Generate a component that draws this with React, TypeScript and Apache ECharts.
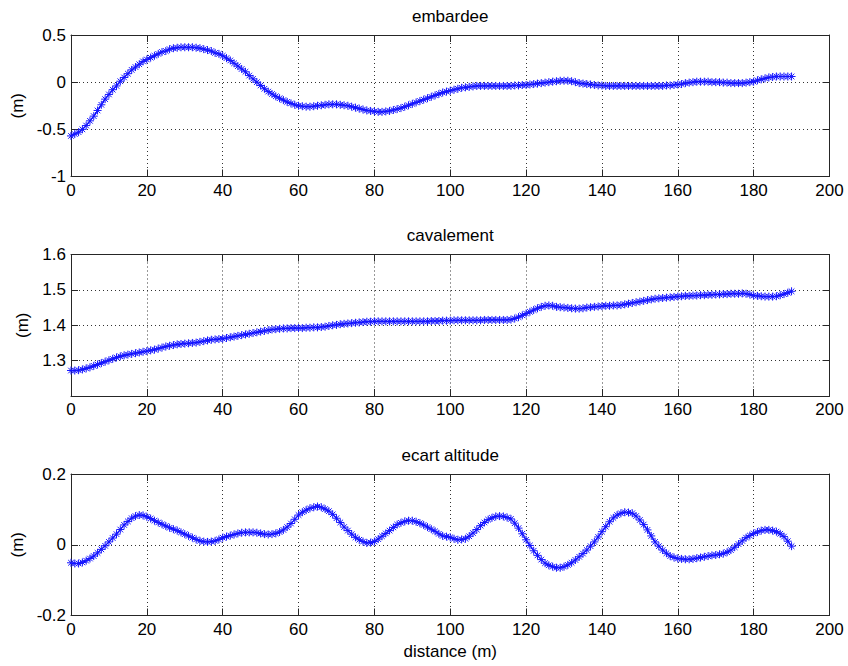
import React, { useEffect, useRef } from "react";
import * as echarts from "echarts";

const titles = ["embardee", "cavalement", "ecart altitude"];
const yUnit = "(m)";
const xName = "distance (m)";
const xTicks = { min: 0, max: 200, interval: 20 };

const embardee = [
  -0.57, -0.55, -0.53, -0.5, -0.46, -0.41, -0.36, -0.3, -0.24, -0.18,
  -0.13, -0.08, -0.04, 0.01, 0.05, 0.09, 0.13, 0.16, 0.19, 0.22,
  0.24, 0.26, 0.28, 0.3, 0.32, 0.33, 0.35, 0.36, 0.365, 0.37,
  0.37, 0.37, 0.37, 0.365, 0.36, 0.35, 0.34, 0.33, 0.31, 0.3,
  0.28, 0.255, 0.23, 0.2, 0.17, 0.14, 0.11, 0.07, 0.035, 0.0,
  -0.035, -0.07, -0.1, -0.125, -0.15, -0.17, -0.19, -0.21, -0.225, -0.24,
  -0.25, -0.255, -0.26, -0.26, -0.255, -0.25, -0.245, -0.24, -0.235, -0.235,
  -0.235, -0.24, -0.245, -0.25, -0.26, -0.27, -0.28, -0.29, -0.3, -0.305,
  -0.31, -0.315, -0.315, -0.31, -0.305, -0.295, -0.285, -0.275, -0.26, -0.245,
  -0.23, -0.215, -0.2, -0.185, -0.17, -0.155, -0.14, -0.125, -0.11, -0.1,
  -0.09, -0.08, -0.07, -0.06, -0.055, -0.05, -0.045, -0.04, -0.04, -0.04,
  -0.04, -0.04, -0.04, -0.04, -0.04, -0.04, -0.04, -0.035, -0.035, -0.03,
  -0.03, -0.025, -0.02, -0.015, -0.01, -0.005, 0.0, 0.005, 0.01, 0.015,
  0.015, 0.015, 0.01, 0.0, -0.01, -0.015, -0.02, -0.025, -0.03, -0.035,
  -0.035, -0.04, -0.04, -0.04, -0.04, -0.04, -0.04, -0.04, -0.04, -0.04,
  -0.04, -0.04, -0.04, -0.04, -0.04, -0.04, -0.04, -0.035, -0.035, -0.03,
  -0.025, -0.02, -0.01, -0.005, 0.0, 0.005, 0.005, 0.005, 0.005, 0.0,
  0.0, 0.0, -0.005, -0.005, -0.01, -0.01, -0.01, -0.01, -0.005, 0.0,
  0.005, 0.02, 0.03, 0.04, 0.05, 0.055, 0.06, 0.06, 0.06, 0.06,
  0.06,
];

const cavalement = [
  1.272, 1.272, 1.273, 1.275, 1.278, 1.281, 1.285, 1.289, 1.293, 1.297,
  1.301, 1.305, 1.309, 1.312, 1.315, 1.317, 1.319, 1.321, 1.323, 1.325,
  1.327, 1.329, 1.331, 1.334, 1.337, 1.34, 1.342, 1.344, 1.346, 1.347,
  1.348, 1.349, 1.35, 1.351, 1.353, 1.355, 1.357, 1.359, 1.36, 1.361,
  1.362, 1.364, 1.366, 1.368, 1.37, 1.372, 1.374, 1.376, 1.378, 1.38,
  1.382, 1.384, 1.386, 1.388, 1.389, 1.39, 1.391, 1.391, 1.392, 1.392,
  1.392, 1.392, 1.393, 1.393, 1.394, 1.394, 1.395, 1.396, 1.398, 1.4,
  1.401, 1.403, 1.404, 1.405, 1.406, 1.407, 1.408, 1.409, 1.41, 1.41,
  1.411, 1.411, 1.411, 1.411, 1.411, 1.411, 1.411, 1.411, 1.411, 1.411,
  1.411, 1.411, 1.411, 1.411, 1.411, 1.412, 1.412, 1.412, 1.413, 1.413,
  1.413, 1.414, 1.414, 1.414, 1.414, 1.414, 1.414, 1.414, 1.414, 1.415,
  1.415, 1.415, 1.415, 1.415, 1.415, 1.415, 1.416, 1.419, 1.423, 1.428,
  1.433, 1.438, 1.443, 1.448, 1.452, 1.455, 1.456, 1.455, 1.452, 1.451,
  1.45, 1.449, 1.448, 1.447, 1.447, 1.448, 1.45, 1.451, 1.452, 1.453,
  1.454, 1.455, 1.455, 1.456, 1.456, 1.457, 1.459, 1.461, 1.463, 1.465,
  1.467, 1.469, 1.471, 1.473, 1.475, 1.476, 1.477, 1.478, 1.479, 1.48,
  1.481, 1.482, 1.483, 1.483, 1.484, 1.484, 1.485, 1.485, 1.486, 1.486,
  1.487, 1.487, 1.488, 1.488, 1.489, 1.489, 1.489, 1.49, 1.489, 1.487,
  1.484, 1.483, 1.482, 1.481, 1.481, 1.481, 1.482, 1.485, 1.488, 1.492,
  1.496,
];

const ecartAltitude = [
  -0.051, -0.053, -0.053, -0.05, -0.045, -0.039, -0.032, -0.023, -0.013, -0.003,
  0.008, 0.019, 0.03, 0.043, 0.056, 0.066, 0.075, 0.081, 0.084, 0.083,
  0.079, 0.074, 0.068, 0.063, 0.058, 0.053, 0.048, 0.044, 0.04, 0.035,
  0.03, 0.025, 0.02, 0.015, 0.011, 0.009, 0.008, 0.009, 0.011, 0.015,
  0.02, 0.023, 0.026, 0.029, 0.032, 0.034, 0.035, 0.035, 0.035, 0.034,
  0.032, 0.03, 0.029, 0.03, 0.032, 0.036, 0.042, 0.05, 0.06, 0.072,
  0.084, 0.092, 0.098, 0.103, 0.106, 0.108, 0.106, 0.101, 0.095, 0.086,
  0.075, 0.063, 0.05, 0.04, 0.03, 0.021, 0.014, 0.009, 0.005, 0.006,
  0.009, 0.016, 0.024, 0.032, 0.04, 0.049, 0.057, 0.062, 0.066, 0.068,
  0.068, 0.065, 0.061, 0.056, 0.05, 0.044, 0.038, 0.031, 0.025, 0.023,
  0.021, 0.017, 0.014, 0.015, 0.017, 0.024, 0.033, 0.043, 0.054, 0.063,
  0.071, 0.076, 0.08, 0.081, 0.08, 0.077, 0.073, 0.061, 0.047, 0.031,
  0.014, -0.002, -0.017, -0.03, -0.042, -0.052, -0.058, -0.062, -0.065, -0.065,
  -0.062, -0.057, -0.051, -0.043, -0.034, -0.025, -0.015, -0.004, 0.008, 0.022,
  0.037, 0.051, 0.065, 0.076, 0.084, 0.089, 0.092, 0.091, 0.089, 0.081,
  0.07, 0.057, 0.042, 0.025, 0.008, -0.004, -0.015, -0.024, -0.032, -0.036,
  -0.039, -0.04, -0.041, -0.041, -0.04, -0.038, -0.036, -0.034, -0.032, -0.03,
  -0.029, -0.027, -0.025, -0.021, -0.015, -0.007, 0.002, 0.011, 0.02, 0.026,
  0.032, 0.036, 0.04, 0.042, 0.042, 0.04, 0.037, 0.031, 0.023, 0.01,
  -0.004,
];

const yRanges = [
  { min: -1, max: 0.5, interval: 0.5 },
  { min: 1.2, max: 1.6, interval: 0.1 },
  { min: -0.2, max: 0.2, interval: 0.2 },
];

const seriesValues = [embardee, cavalement, ecartAltitude];
const nameGaps = [43, 38, 43];

const FONT = "Liberation Sans, Arial, Helvetica, sans-serif";
const FS = 17;
const AXIS_COLOR = "#262626";
const ASTERISK =
  "path://M5,0L5,10M0,5L10,5M1.5,1.5L8.5,8.5M1.5,8.5L8.5,1.5";

export default function App() {
  const ref = useRef<HTMLDivElement>(null);

  useEffect(() => {
    if (!ref.current) return;
    const chart = echarts.init(ref.current, undefined, { renderer: "svg" });

    const gridTops = [35, 254.5, 474];
    const gridHeight = 141.5;
    const grids = gridTops.map((t) => ({
      left: 71,
      right: 18.5,
      top: t,
      height: gridHeight,
      containLabel: false,
    }));

    const xAxes: any[] = [];
    const yAxes: any[] = [];
    const series: any[] = [];
    const graphics: any[] = [];

    gridTops.forEach((t, i) => {
      xAxes.push({
        type: "value",
        gridIndex: i,
        position: "bottom",
        ...xTicks,
        axisLine: { show: true, onZero: false, lineStyle: { color: AXIS_COLOR, width: 1 } },
        axisTick: { show: true, inside: true, length: 7, lineStyle: { color: AXIS_COLOR } },
        axisLabel: { color: "#000", fontSize: FS, fontFamily: FONT, margin: 5 },
        splitLine: { show: true, lineStyle: { color: "#333", type: [1, 3], width: 1 } },
        name: i === 2 ? xName : "",
        nameLocation: "middle",
        nameGap: 27,
        nameTextStyle: { color: "#000", fontSize: FS, fontFamily: FONT },
      });
      xAxes.push({
        type: "value",
        gridIndex: i,
        position: "top",
        ...xTicks,
        axisLine: { show: true, onZero: false, lineStyle: { color: AXIS_COLOR, width: 1 } },
        axisTick: { show: true, inside: true, length: 7, lineStyle: { color: AXIS_COLOR } },
        axisLabel: { show: false },
        splitLine: { show: false },
      });
      yAxes.push({
        type: "value",
        gridIndex: i,
        position: "left",
        ...yRanges[i],
        axisLine: { show: true, onZero: false, lineStyle: { color: AXIS_COLOR, width: 1 } },
        axisTick: { show: true, inside: true, length: 7, lineStyle: { color: AXIS_COLOR } },
        axisLabel: {
          color: "#000",
          fontSize: FS,
          fontFamily: FONT,
          margin: 5,
          showMinLabel: i !== 1,
        },
        splitLine: { show: true, lineStyle: { color: "#333", type: [1, 3], width: 1 } },
        name: yUnit,
        nameLocation: "middle",
        nameRotate: 90,
        nameGap: nameGaps[i],
        nameTextStyle: { color: "#000", fontSize: FS, fontFamily: FONT },
      });
      yAxes.push({
        type: "value",
        gridIndex: i,
        position: "right",
        ...yRanges[i],
        axisLine: { show: true, onZero: false, lineStyle: { color: AXIS_COLOR, width: 1 } },
        axisTick: { show: true, inside: true, length: 7, lineStyle: { color: AXIS_COLOR } },
        axisLabel: { show: false },
        splitLine: { show: false },
      });

      series.push({
        type: "line",
        name: titles[i],
        xAxisIndex: 2 * i,
        yAxisIndex: 2 * i,
        data: seriesValues[i].map((v, k) => [k, v]),
        lineStyle: { color: "#0000ff", width: 1.2 },
        symbol: ASTERISK,
        symbolSize: 8,
        itemStyle: { color: "rgba(0,0,0,0)", borderColor: "#1515ff", borderWidth: 1 },
        emphasis: { disabled: true },
        silent: true,
        z: 3,
      });

      graphics.push({
        type: "text",
        x: 71 + (848 - 71 - 18.5) / 2,
        y: t - 19,
        style: {
          text: titles[i],
          fill: "#000",
          font: `${FS}px ${FONT}`,
          textAlign: "center",
          textVerticalAlign: "middle",
        },
      });
    });

    chart.setOption({
      animation: false,
      backgroundColor: "#fff",
      grid: grids,
      xAxis: xAxes,
      yAxis: yAxes,
      series,
      graphic: graphics,
    });

    return () => chart.dispose();
  }, []);

  return <div ref={ref} style={{ width: 848, height: 666, position: "absolute", left: 0, top: 0 }} />;
}
